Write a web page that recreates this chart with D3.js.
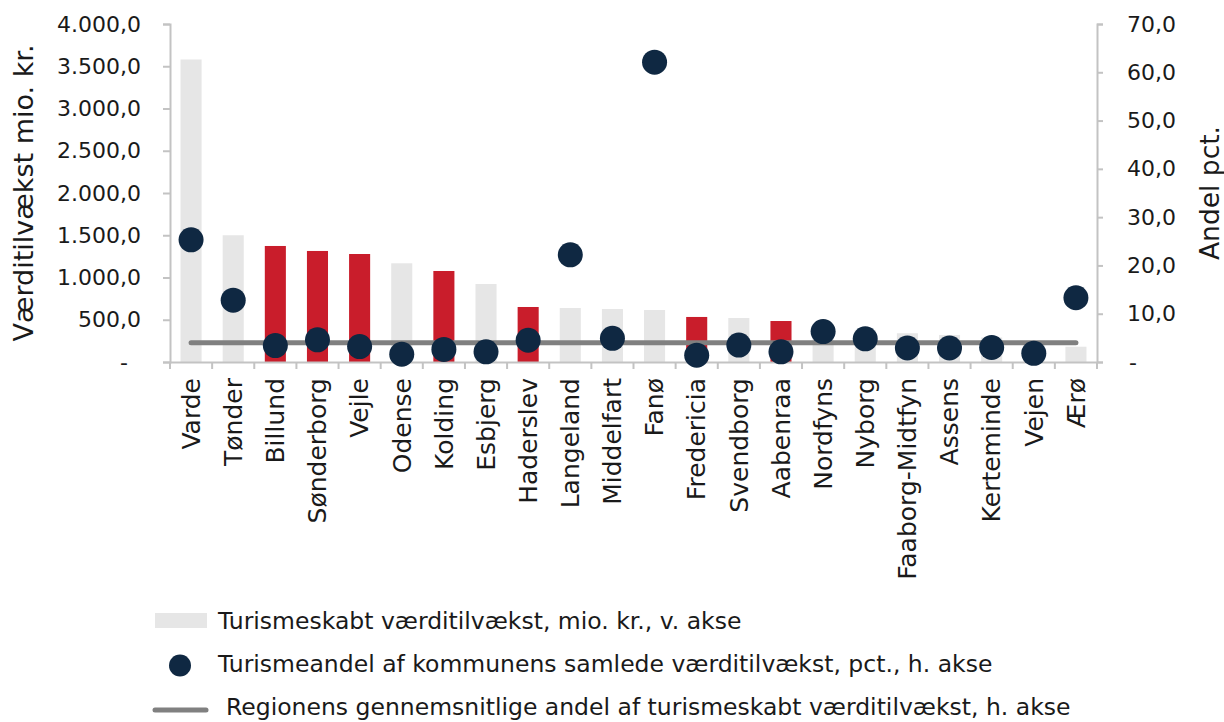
<!DOCTYPE html>
<html>
<head>
<meta charset="utf-8">
<script src="https://cdn.jsdelivr.net/npm/d3@7"></script>
<style>
  body { margin: 0; background: #fff; }
  svg text { font-family: "DejaVu Sans", sans-serif; fill: #1a1a1a; }
</style>
</head>
<body>
<div id="chart"></div>
<script>
// kommuner, sorted by tourism value added
const municipalities = ["Varde", "Tønder", "Billund", "Sønderborg", "Vejle", "Odense", "Kolding", "Esbjerg",
  "Haderslev", "Langeland", "Middelfart", "Fanø", "Fredericia", "Svendborg", "Aabenraa", "Nordfyns",
  "Nyborg", "Faaborg-Midtfyn", "Assens", "Kerteminde", "Vejen", "Ærø"];
// mio. kr. (left axis)
const valueAdded = [3580, 1500, 1373, 1314, 1278, 1168, 1077, 923, 651, 639, 627, 615, 533, 521, 485, 420,
  380, 340, 320, 290, 230, 181];
// highlighted (red) municipalities
const highlighted = ["Billund", "Sønderborg", "Vejle", "Kolding", "Haderslev", "Fredericia", "Aabenraa"];
// pct. (right axis)
const tourismShare = [25.3, 12.8, 3.4, 4.6, 3.2, 1.6, 2.6, 2.1, 4.5, 22.2, 4.9, 62.1, 1.4, 3.5, 2.1, 6.3,
  4.8, 2.9, 2.9, 3.0, 1.8, 13.3];
const regionAverage = 4.0;

const leftTicks = [0, 500, 1000, 1500, 2000, 2500, 3000, 3500, 4000];
const rightTicks = [0, 10, 20, 30, 40, 50, 60, 70];

const legendLabels = [
  "Turismeskabt værditilvækst, mio. kr., v. akse",
  "Turismeandel af kommunens samlede værditilvækst, pct., h. akse",
  "Regionens gennemsnitlige andel af turismeskabt værditilvækst, h. akse"
];

const W = 1224, H = 722;
const margin = { top: 24, right: 127, bottom: 360, left: 170 };
const width = W - margin.left - margin.right,
    height = H - margin.top - margin.bottom;

const axisColor = "#c3c3c3", grey = "#e6e6e6", red = "#c91d2b", navy = "#0f2842", lineGrey = "#808080";

const svg = d3.select("#chart").append("svg")
    .attr("width", W)
    .attr("height", H);

const g = svg.append("g").attr("transform", `translate(${margin.left},${margin.top})`);

const x = d3.scaleBand().domain(municipalities).range([0, width]).paddingInner(0.5).paddingOuter(0.25);
const yL = d3.scaleLinear().domain([0, 4000]).range([height, 0]);
const yR = d3.scaleLinear().domain([0, 70]).range([height, 0]);

const fmt = v => v === 0 ? "-" : d3.format(",.1f")(v).replace(/,/g, "X").replace(/\./g, ",").replace(/X/g, ".");

const data = municipalities.map((m, i) => ({ name: m, value: valueAdded[i], share: tourismShare[i] }));

// bars
g.selectAll(".bar")
    .data(data)
    .enter()
    .append("rect")
    .attr("class", "bar")
    .attr("x", d => x(d.name))
    .attr("width", x.bandwidth())
    .attr("y", d => yL(d.value))
    .attr("height", d => height - yL(d.value))
    .style("fill", d => highlighted.includes(d.name) ? red : grey);

// axes
const leftAxis = g.append("g")
    .call(d3.axisLeft(yL).tickValues(leftTicks).tickFormat(fmt).tickSize(7).tickPadding(22));
const rightAxis = g.append("g")
    .attr("transform", `translate(${width},0)`)
    .call(d3.axisRight(yR).tickValues(rightTicks).tickFormat(fmt).tickSize(6).tickPadding(24));
const bottomAxis = g.append("g")
    .attr("transform", `translate(0,${height})`)
    .call(d3.axisBottom(x).tickSize(0).tickPadding(16));

[leftAxis, rightAxis].forEach(a => {
    a.select(".domain").attr("stroke", axisColor).attr("stroke-width", 2);
    a.selectAll(".tick line").attr("stroke", axisColor).attr("stroke-width", 2);
    a.selectAll("text").style("font-size", "22px").attr("fill", "#1a1a1a");
});
leftAxis.selectAll(".tick").filter(d => d === 0).select("text").attr("dx", -13);
rightAxis.selectAll(".tick").filter(d => d === 0).select("text").attr("dx", 2);

bottomAxis.select(".domain").attr("stroke", axisColor).attr("stroke-width", 2);
bottomAxis.selectAll("text")
    .style("font-size", "25px")
    .attr("fill", "#1a1a1a")
    .attr("text-anchor", "end")
    .attr("transform", "rotate(-90)")
    .attr("x", -16)
    .attr("y", 0)
    .attr("dy", "0.35em");

// tick marks between categories
const step = x.step();
g.selectAll(".cat-tick")
    .data(d3.range(municipalities.length + 1))
    .enter()
    .append("line")
    .attr("x1", i => i * step)
    .attr("x2", i => i * step)
    .attr("y1", height)
    .attr("y2", height + 7)
    .attr("stroke", axisColor)
    .attr("stroke-width", 2);

// regional average line
const first = municipalities[0], last = municipalities[municipalities.length - 1];
g.append("line")
    .attr("x1", x(first) + x.bandwidth() / 2)
    .attr("x2", x(last) + x.bandwidth() / 2)
    .attr("y1", yR(regionAverage))
    .attr("y2", yR(regionAverage))
    .attr("stroke", lineGrey)
    .attr("stroke-width", 5)
    .attr("stroke-linecap", "round");

// dots
g.selectAll(".dot")
    .data(data)
    .enter()
    .append("circle")
    .attr("cx", d => x(d.name) + x.bandwidth() / 2)
    .attr("cy", d => yR(d.share))
    .attr("r", 12.5)
    .style("fill", navy);

// axis titles
svg.append("text")
    .attr("transform", `translate(33,193) rotate(-90)`)
    .attr("text-anchor", "middle")
    .style("font-size", "27px")
    .text("Værditilvækst mio. kr.");

svg.append("text")
    .attr("transform", `translate(1219,193) rotate(-90)`)
    .attr("text-anchor", "middle")
    .style("font-size", "26.5px")
    .text("Andel pct.");

// legend
const legend = svg.append("g");
legend.append("rect")
    .attr("x", 155).attr("y", 613).attr("width", 52).attr("height", 15)
    .style("fill", grey);
legend.append("circle")
    .attr("cx", 180).attr("cy", 665.5).attr("r", 11)
    .style("fill", navy);
legend.append("line")
    .attr("x1", 155).attr("x2", 206).attr("y1", 710).attr("y2", 710)
    .attr("stroke", lineGrey).attr("stroke-width", 5).attr("stroke-linecap", "round");

const legendPos = [[218, 629], [218, 672], [226, 715]];
legendLabels.forEach((t, i) => {
    legend.append("text")
        .attr("x", legendPos[i][0])
        .attr("y", legendPos[i][1])
        .style("font-size", "23.5px")
        .text(t);
});
</script>
</body>
</html>
